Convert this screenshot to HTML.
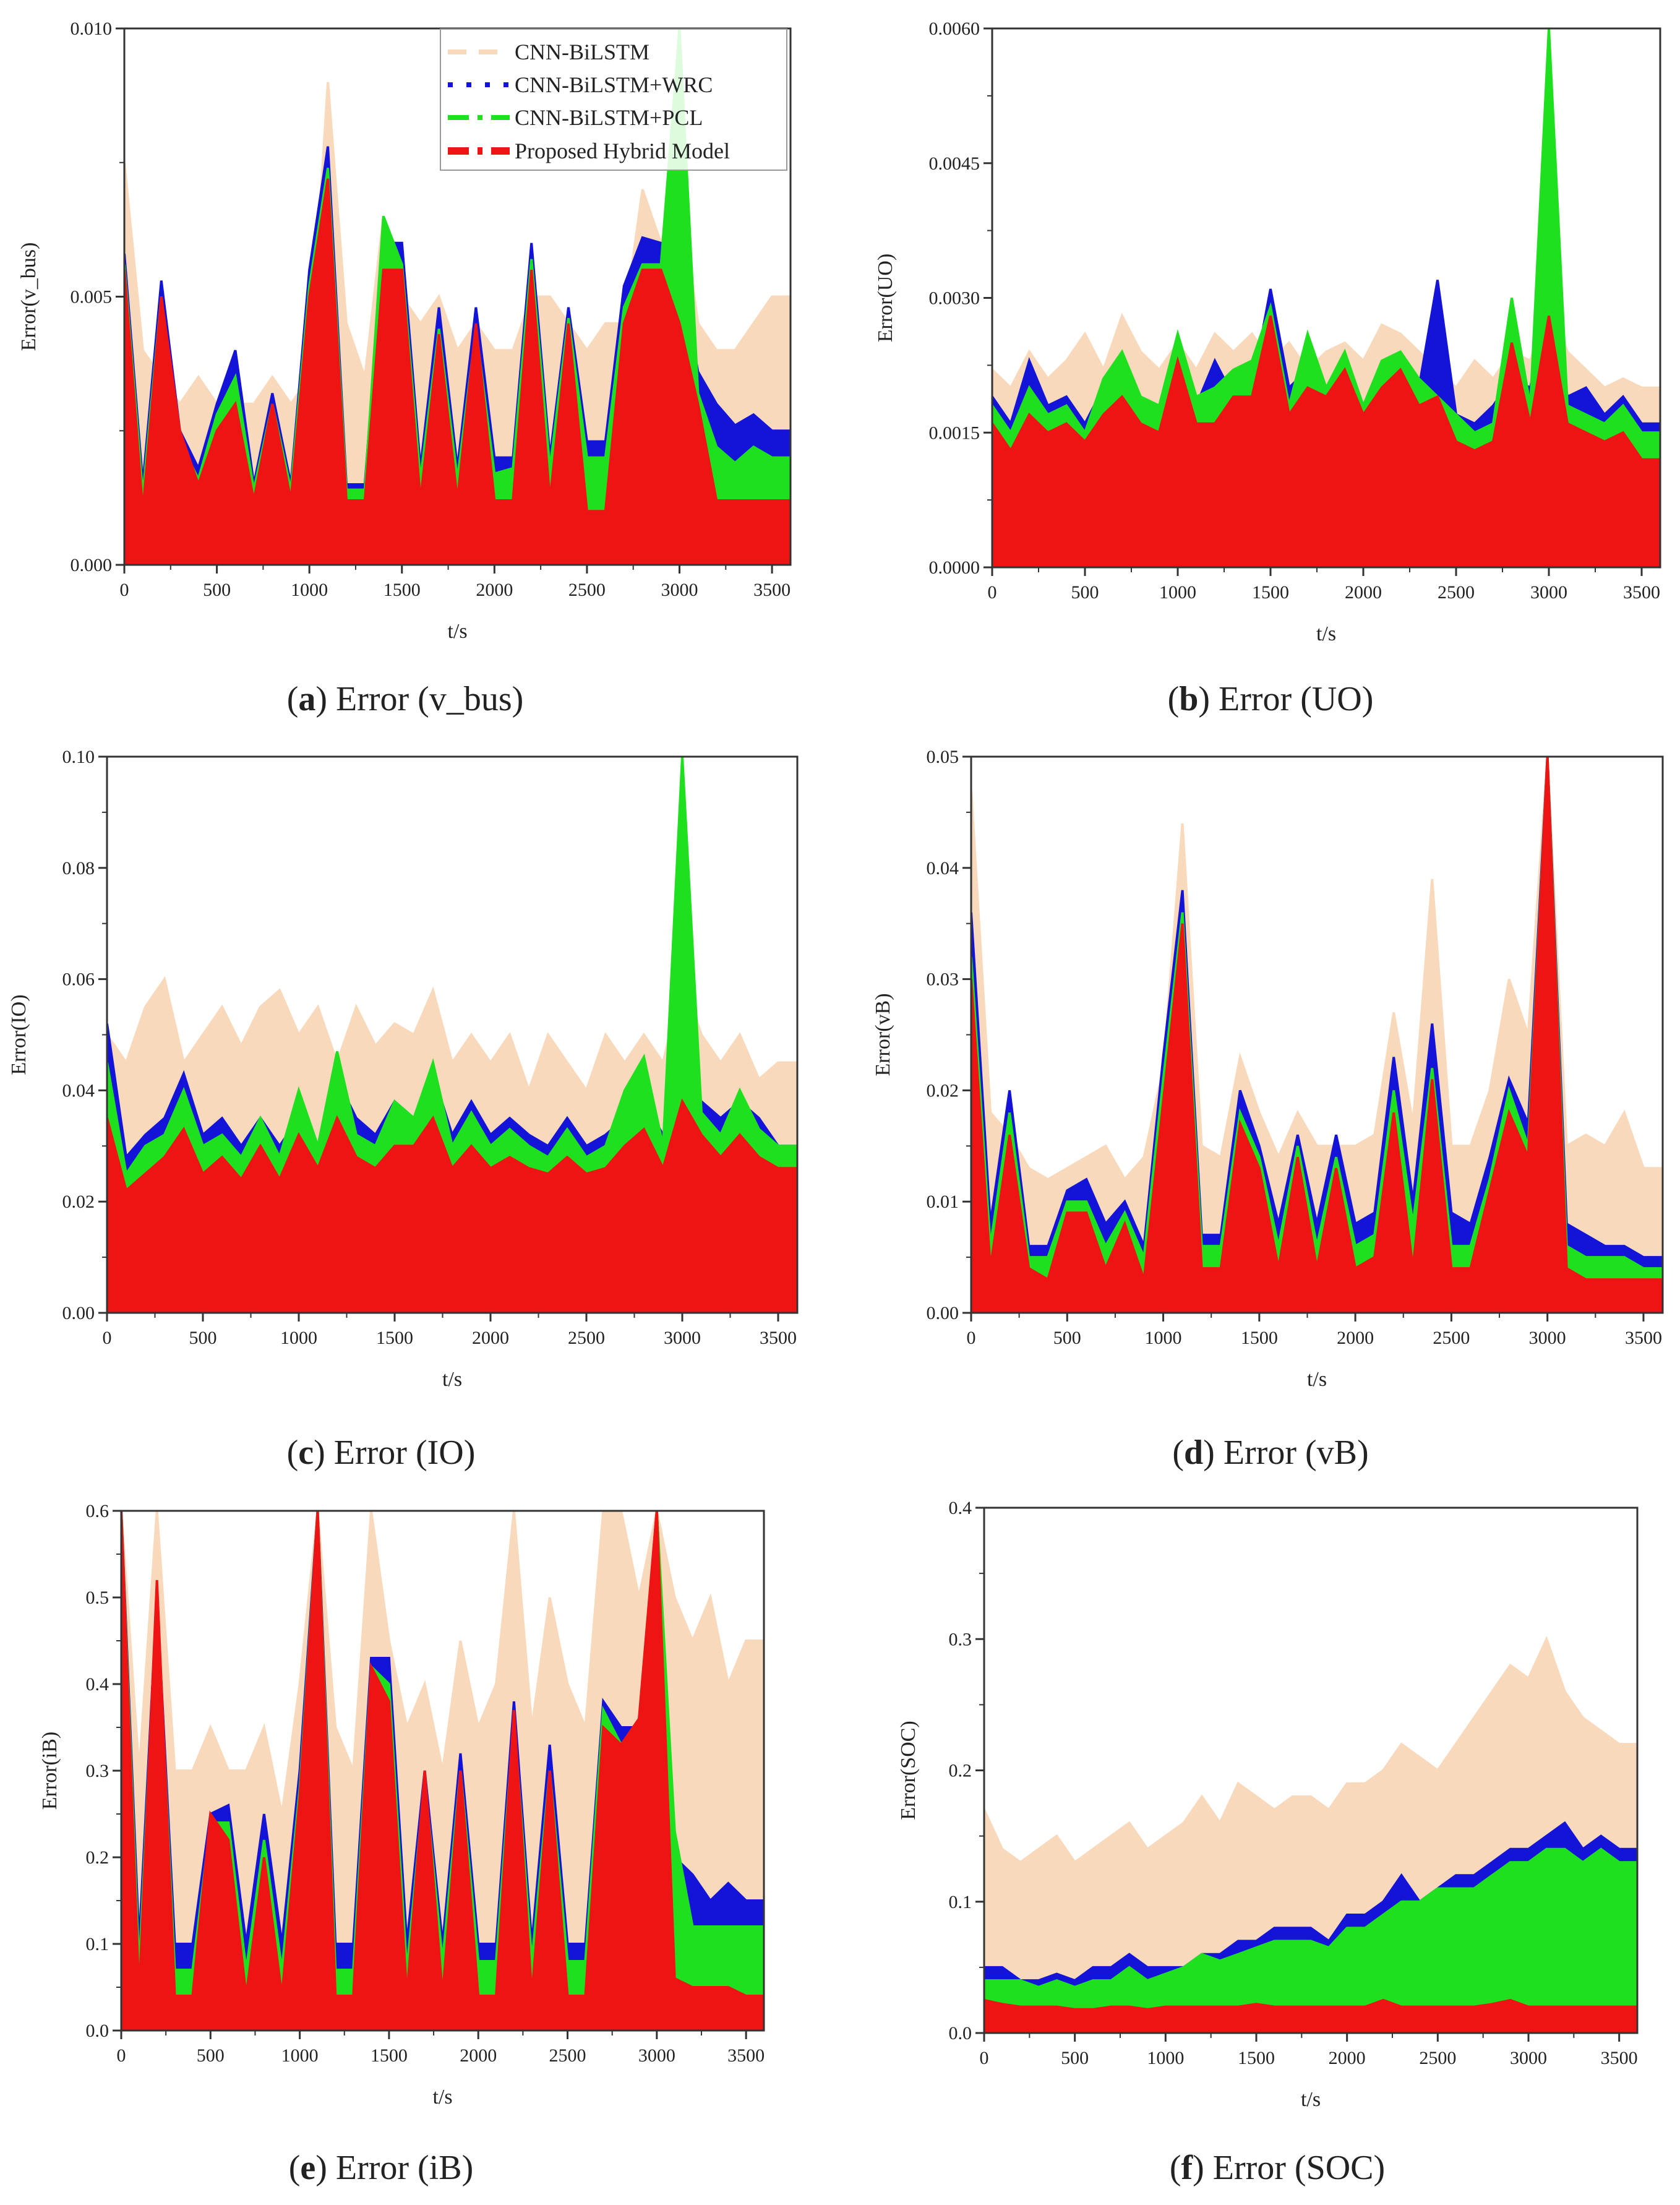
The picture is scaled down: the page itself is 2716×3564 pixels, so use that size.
<!DOCTYPE html>
<html><head><meta charset="utf-8"><style>
html,body{margin:0;padding:0;background:#fff}
svg{display:block}
text{font-family:"Liberation Serif",serif;fill:#222}
</style></head><body>
<svg id="fig" width="2716" height="3564" viewBox="0 0 2716 3564"></svg>
<script>
// x-axis bins (t/s)
const times = [0,100,200,300,400,500,600,700,800,900,1000,1100,1200,1300,1400,1500,1600,1700,1800,1900,2000,2100,2200,2300,2400,2500,2600,2700,2800,2900,3000,3100,3200,3300,3400,3500];
const xTicks = [0,500,1000,1500,2000,2500,3000,3500];
const seriesNames = ["CNN-BiLSTM","CNN-BiLSTM+WRC","CNN-BiLSTM+PCL","Proposed Hybrid Model"];

// (a) v_bus  (values x1e-3)
const tanA=[7.5,4,3.5,3,3.5,3,3,3,3.5,3,3.5,9,4.5,3.5,6.5,5,4.5,5,4,4.5,4,4,5,5,4.5,4,4.5,4.5,7,6,7,4.5,4,4,4.5,5];
const blueA=[5.8,1.5,5.3,2.5,1.8,3,4,1.5,3.2,1.5,5.5,7.8,1.5,1.5,6,6,1.8,4.8,1.8,4.8,2,2,6,2,4.8,2.3,2.3,5.2,6.1,6,5.5,3.6,3,2.6,2.8,2.5];
const greenA=[5.6,1.3,5,2.3,1.6,2.8,3.5,1.4,3,1.4,5.2,7.4,1.4,1.4,6.5,5.6,1.6,4.4,1.6,4.4,1.7,1.8,5.7,1.8,4.6,2,2,4.8,5.6,5.6,10,3.2,2.2,1.9,2.2,2];
const redA=[5.5,1,5,2.5,1.5,2.5,3,1.2,3,1.2,5,7.2,1.2,1.2,5.5,5.5,1.2,4.3,1.2,4.5,1.2,1.2,5.5,1.2,4.5,1,1,4.5,5.5,5.5,4.5,3,1.2,1.2,1.2,1.2];
// (b) UO (x1e-3)
const tanB=[2.2,2.0,2.4,2.1,2.3,2.6,2.2,2.8,2.4,2.2,2.5,2.2,2.6,2.4,2.6,2.3,2.5,2.2,2.4,2.5,2.3,2.7,2.6,2.4,2.2,2.0,2.3,2.1,2.4,2.3,3.0,2.4,2.2,2.0,2.1,2.0];
const blueB=[1.9,1.6,2.3,1.8,1.9,1.6,2.0,2.3,1.8,1.7,2.0,1.8,2.3,1.9,2.0,3.1,2.0,2.2,1.9,2.2,1.8,2.1,2.3,2.0,3.2,1.7,1.6,1.8,2.1,2.0,3.0,1.9,2.0,1.7,1.9,1.6];
const greenB=[1.8,1.5,2.0,1.7,1.8,1.5,2.1,2.4,1.9,1.8,2.6,1.9,2.0,2.2,2.3,2.9,1.8,2.6,2.0,2.4,1.8,2.3,2.4,2.1,1.9,1.7,1.5,1.6,3.0,1.8,6.0,1.8,1.7,1.6,1.8,1.5];
const redB=[1.6,1.3,1.7,1.5,1.6,1.4,1.7,1.9,1.6,1.5,2.3,1.6,1.6,1.9,1.9,2.8,1.7,2.0,1.9,2.2,1.7,2.0,2.2,1.8,1.9,1.4,1.3,1.4,2.5,1.6,2.8,1.6,1.5,1.4,1.5,1.2];
// (c) IO (x1e-2)
const tanC=[5.0,4.5,5.5,6.0,4.5,5.0,5.5,4.8,5.5,5.8,5.0,5.5,4.5,5.5,4.8,5.2,5.0,5.8,4.5,5.0,4.5,5.0,4.0,5.0,4.5,4.0,5.0,4.5,5.0,4.5,6.0,5.0,4.5,5.0,4.2,4.5];
const blueC=[5.2,2.8,3.2,3.5,4.3,3.2,3.5,3.0,3.5,3.0,3.5,3.0,4.2,3.5,3.2,3.8,3.5,4.3,3.2,3.8,3.2,3.5,3.2,3.0,3.5,3.0,3.2,3.5,3.8,3.2,4.3,3.8,3.5,3.8,3.5,3.0];
const greenC=[4.5,2.5,3.0,3.2,4.0,3.0,3.2,2.8,3.5,2.8,4.0,3.0,4.7,3.2,3.0,3.8,3.5,4.5,3.0,3.6,3.0,3.3,3.0,2.8,3.3,2.8,3.0,4.0,4.6,3.0,10,3.6,3.2,4.0,3.3,3.0];
const redC=[3.5,2.2,2.5,2.8,3.3,2.5,2.8,2.4,3.0,2.4,3.2,2.6,3.5,2.8,2.6,3.0,3.0,3.5,2.6,3.0,2.6,2.8,2.6,2.5,2.8,2.5,2.6,3.0,3.3,2.6,3.8,3.2,2.8,3.2,2.8,2.6];
// (d) vB (x1e-2)
const tanD=[4.7,1.8,1.6,1.3,1.2,1.3,1.4,1.5,1.2,1.4,2.2,4.4,1.5,1.4,2.3,1.8,1.4,1.8,1.5,1.5,1.5,1.6,2.7,1.7,3.9,1.5,1.5,2.0,3.0,2.5,5.0,1.5,1.6,1.5,1.8,1.3];
const blueD=[3.6,0.8,2.0,0.6,0.6,1.1,1.2,0.8,1.0,0.6,2.3,3.8,0.7,0.7,2.0,1.5,0.8,1.6,0.8,1.6,0.8,0.9,2.3,1.0,2.6,0.9,0.8,1.4,2.1,1.7,5.0,0.8,0.7,0.6,0.6,0.5];
const greenD=[3.2,0.6,1.8,0.5,0.5,1.0,1.0,0.6,0.9,0.5,2.1,3.6,0.6,0.6,1.8,1.4,0.6,1.5,0.6,1.4,0.6,0.7,2.0,0.8,2.2,0.6,0.6,1.2,2.0,1.5,5.0,0.6,0.5,0.5,0.5,0.4];
const redD=[3.0,0.4,1.6,0.4,0.3,0.9,0.9,0.4,0.8,0.3,1.9,3.5,0.4,0.4,1.7,1.3,0.4,1.4,0.4,1.3,0.4,0.5,1.8,0.4,2.1,0.4,0.4,1.1,1.8,1.4,5.0,0.4,0.3,0.3,0.3,0.3];
// (e) iB
const tanE=[0.6,0.3,0.6,0.3,0.3,0.35,0.3,0.3,0.35,0.25,0.4,0.6,0.35,0.3,0.6,0.45,0.35,0.4,0.3,0.45,0.35,0.4,0.6,0.35,0.5,0.4,0.35,0.6,0.6,0.5,0.6,0.5,0.45,0.5,0.4,0.45];
const blueE=[0.6,0.1,0.5,0.1,0.1,0.25,0.26,0.1,0.25,0.1,0.3,0.6,0.1,0.1,0.43,0.43,0.1,0.3,0.1,0.32,0.1,0.1,0.38,0.1,0.33,0.1,0.1,0.38,0.35,0.35,0.6,0.2,0.18,0.15,0.17,0.15];
const greenE=[0.6,0.07,0.5,0.07,0.07,0.24,0.24,0.07,0.22,0.07,0.28,0.6,0.07,0.07,0.42,0.4,0.07,0.29,0.08,0.3,0.08,0.08,0.36,0.08,0.3,0.08,0.08,0.37,0.33,0.34,0.6,0.23,0.12,0.12,0.12,0.12];
const redE=[0.6,0.04,0.52,0.04,0.04,0.25,0.22,0.04,0.2,0.04,0.27,0.6,0.04,0.04,0.42,0.38,0.04,0.3,0.04,0.3,0.04,0.04,0.37,0.04,0.3,0.04,0.04,0.35,0.33,0.36,0.6,0.06,0.05,0.05,0.05,0.04];
// (f) SOC
const tanF=[0.17,0.14,0.13,0.14,0.15,0.13,0.14,0.15,0.16,0.14,0.15,0.16,0.18,0.16,0.19,0.18,0.17,0.18,0.18,0.17,0.19,0.19,0.2,0.22,0.21,0.2,0.22,0.24,0.26,0.28,0.27,0.3,0.26,0.24,0.23,0.22];
const blueF=[0.05,0.05,0.04,0.04,0.045,0.04,0.05,0.05,0.06,0.05,0.05,0.05,0.06,0.06,0.07,0.07,0.08,0.08,0.08,0.07,0.09,0.09,0.1,0.12,0.1,0.11,0.12,0.12,0.13,0.14,0.14,0.15,0.16,0.14,0.15,0.14];
const greenF=[0.04,0.04,0.04,0.035,0.04,0.035,0.04,0.04,0.05,0.04,0.045,0.05,0.06,0.055,0.06,0.065,0.07,0.07,0.07,0.065,0.08,0.08,0.09,0.1,0.1,0.11,0.11,0.11,0.12,0.13,0.13,0.14,0.14,0.13,0.14,0.13];
const redF=[0.025,0.022,0.02,0.02,0.02,0.018,0.018,0.02,0.02,0.018,0.02,0.02,0.02,0.02,0.02,0.022,0.02,0.02,0.02,0.02,0.02,0.02,0.025,0.02,0.02,0.02,0.02,0.02,0.022,0.025,0.02,0.02,0.02,0.02,0.02,0.02];

const ticksA=["0.000","0.005","0.010"];
const ticksB=["0.0000","0.0015","0.0030","0.0045","0.0060"];
const ticksC=["0.00","0.02","0.04","0.06","0.08","0.10"];
const ticksD=["0.00","0.01","0.02","0.03","0.04","0.05"];
const ticksE=["0.0","0.1","0.2","0.3","0.4","0.5","0.6"];
const ticksF=["0.0","0.1","0.2","0.3","0.4"];

const NS="http://www.w3.org/2000/svg";
const svg=document.getElementById('fig');
function mk(tag,attrs,parent){const e=document.createElementNS(NS,tag);for(const k in attrs)e.setAttribute(k,attrs[k]);(parent||svg).appendChild(e);return e;}
const colors=["#f9d9bc","#1414d8","#1ee01e","#ee1414"];

const panels=[
 {id:"a",x0:201,x1:1278,y0:46,y1:913,scale:1e-3,max:0.010,ticks:ticksA,series:[tanA,blueA,greenA,redA],title:"Error(v_bus)",tx:57,cap:"Error (v_bus)",cx:655,cy:1148,legend:true},
 {id:"b",x0:1604,x1:2684,y0:46,y1:917,scale:1e-3,max:0.006,ticks:ticksB,series:[tanB,blueB,greenB,redB],title:"Error(UO)",tx:1442,cap:"Error (UO)",cx:2054,cy:1148},
 {id:"c",x0:173,x1:1289,y0:1223,y1:2122,scale:1e-2,max:0.10,ticks:ticksC,series:[tanC,blueC,greenC,redC],title:"Error(IO)",tx:41,cap:"Error (IO)",cx:616,cy:2366},
 {id:"d",x0:1570,x1:2688,y0:1223,y1:2122,scale:1e-2,max:0.05,ticks:ticksD,series:[tanD,blueD,greenD,redD],title:"Error(vB)",tx:1438,cap:"Error (vB)",cx:2054,cy:2366},
 {id:"e",x0:196,x1:1235,y0:2442,y1:3282,scale:1,max:0.6,ticks:ticksE,series:[tanE,blueE,greenE,redE],title:"Error(iB)",tx:91,cap:"Error (iB)",cx:616,cy:3522},
 {id:"f",x0:1591,x1:2647,y0:2437,y1:3286,scale:1,max:0.4,ticks:ticksF,series:[tanF,blueF,greenF,redF],title:"Error(SOC)",tx:1479,cap:"Error (SOC)",cx:2065,cy:3522}
];
const seriesKeys=["cnn-bilstm","wrc","pcl","hybrid"];

panels.forEach(p=>{
 const g=mk('g',{});
 
 
 const xs=t=>p.x0+(t/3600)*(p.x1-p.x0);
 const ys=v=>p.y1-Math.min(v,p.max)/p.max*(p.y1-p.y0);
 const cid='clip'+p.id;
 const cp=mk('clipPath',{id:cid},g);mk('rect',{x:p.x0,y:p.y0,width:p.x1-p.x0,height:p.y1-p.y0},cp);
 const plot=mk('g',{'clip-path':'url(#'+cid+')'},g);
 p.series.forEach((arr,si)=>{
  let d='M'+xs(0)+','+p.y1;
  arr.forEach((v,i)=>{d+=' L'+xs(times[i]).toFixed(1)+','+ys(v*p.scale).toFixed(1);});
  d+=' L'+xs(3600)+','+ys(arr[arr.length-1]*p.scale).toFixed(1)+' L'+xs(3600)+','+p.y1+' Z';
  const path=mk('path',{d:d,fill:colors[si],stroke:colors[si],'stroke-width':4},plot);
  
  
 });
 const fr=mk('rect',{x:p.x0,y:p.y0,width:p.x1-p.x0,height:p.y1-p.y0,fill:'none',stroke:'#333','stroke-width':3},g);
 
 
 const n=p.ticks.length-1;
 p.ticks.forEach((lab,i)=>{
  const v=p.max*i/n, y=ys(v);
  mk('line',{x1:p.x0-14,x2:p.x0,y1:y,y2:y,stroke:'#333','stroke-width':3},g);
  if(i<n){const ym=ys(p.max*(i+0.5)/n);mk('line',{x1:p.x0-8,x2:p.x0,y1:ym,y2:ym,stroke:'#333','stroke-width':2},g);}
  const t=mk('text',{x:p.x0-20,y:y+10,'text-anchor':'end','font-size':30},g);t.textContent=lab;
  
  
 });
 xTicks.forEach(tv=>{
  const x=xs(tv);
  mk('line',{x1:x,x2:x,y1:p.y1,y2:p.y1+14,stroke:'#333','stroke-width':3},g);
  if(tv+250<3600){const xm=xs(tv+250);mk('line',{x1:xm,x2:xm,y1:p.y1,y2:p.y1+8,stroke:'#333','stroke-width':2},g);}
  const t=mk('text',{x:x,y:p.y1+50,'text-anchor':'middle','font-size':30},g);t.textContent=tv;
  
  
 });
 const xl=mk('text',{x:(p.x0+p.x1)/2,y:p.y1+118,'text-anchor':'middle','font-size':34},g);xl.textContent='t/s';
 
 
 const cyv=(p.y0+p.y1)/2;
 const yl=mk('text',{x:p.tx,y:cyv,'text-anchor':'middle','font-size':34,transform:'rotate(-90 '+p.tx+' '+cyv+')'},g);yl.textContent=p.title;
 
 
 const cap=mk('text',{x:p.cx,y:p.cy,'text-anchor':'middle','font-size':56},g);
 
 
 const b=mk('tspan',{'font-weight':'bold'},cap);b.textContent=p.id;
 cap.insertBefore(document.createTextNode('('),b);
 cap.appendChild(document.createTextNode(') '+p.cap));
 if(p.legend){
  const lg=mk('g',{},g);
  
  
  mk('rect',{x:712,y:47,width:560,height:228,fill:'rgba(255,255,255,0.85)',stroke:'#999','stroke-width':2},lg);
  const ly=[84,137,190,244];
  const dash=['30 20','8 22','34 14 8 14','34 14 8 14'];
  seriesNames.forEach((nm,i)=>{
   const e=mk('g',{},lg);
   
   
   mk('line',{x1:724,x2:824,y1:ly[i],y2:ly[i],stroke:colors[i],'stroke-width':i===3?12:8,'stroke-dasharray':dash[i]},e);
   const t=mk('text',{x:832,y:ly[i]+12,'font-size':36},e);t.textContent=nm;
  });
 }
});
</script>
</body></html>
